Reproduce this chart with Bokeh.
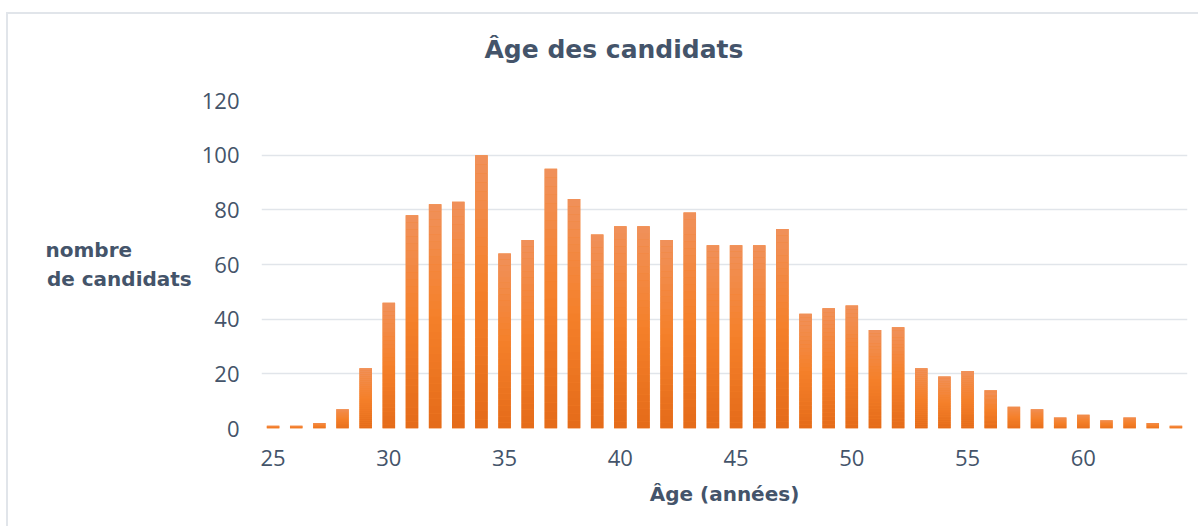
import numpy as np
from bokeh.plotting import figure
from bokeh.models import Range1d, FixedTicker, ColumnDataSource, Title
from bokeh.embed import file_html
from bokeh.resources import INLINE

# ---- data ----
ages = list(range(25, 65))
counts = [1, 1, 2, 7, 22, 46, 78, 82, 83, 100,
          64, 69, 95, 84, 71, 74, 74, 69, 79, 67,
          67, 67, 73, 42, 44, 45, 36, 37, 22, 19,
          21, 14, 8, 7, 4, 5, 3, 4, 2, 1]
x_ticks = [25, 30, 35, 40, 45, 50, 55, 60]
y_ticks = [0, 20, 40, 60, 80, 100, 120]
title_text = "Âge des candidats"
x_title = "Âge (années)"
NBSP = "\u00a0"
# first line padded with no-break spaces so both lines start at the same x
y_title = "nombre" + NBSP * 8 + "\u2009" + "\nde candidats"

TEXT = "#44546A"
GRID = "#E1E5EA"

p = figure(width=1192, height=514,
           x_range=Range1d(24.5, 64.5), y_range=Range1d(0, 120),
           output_backend="svg", toolbar_location=None,
           min_border_left=253, min_border_right=13,
           min_border_top=86, min_border_bottom=100)
p.styles = {"position": "relative", "top": "12px", "left": "6px",
            "border-top": "2px solid #E1E5EA", "border-left": "2px solid #E1E5EA"}
p.outline_line_color = None
p.background_fill_color = "white"
p.border_fill_color = "white"

# invisible spacer between the plot area and the title
p.add_layout(Title(text=" ", text_font_size="1px", standoff=34), "above")

# title
p.title.text = title_text
p.title.align = "left"
p.title.offset = 223
p.title.standoff = 0
p.title.text_font = "DejaVu Sans"
p.title.text_font_style = "bold"
p.title.text_font_size = "25px"
p.title.text_color = TEXT

# gradient bars: base + stacked slices derived from the data
BAR_W = 0.54
p.vbar(x=ages, top=counts, width=BAR_W, fill_color="#F5802A", line_color=None)

N = 30
frac = np.arange(N) / N
mid = (np.arange(N) + 0.5) / N
stops_t = [0.0, 0.5, 1.0]
stops = np.array([[0xE4, 0x6B, 0x19], [0xF5, 0x80, 0x2A], [0xF0, 0x91, 0x5B]], dtype=float)
cols = []
for t in mid:
    rgb = [np.interp(t, stops_t, stops[:, c]) for c in range(3)]
    cols.append("#%02X%02X%02X" % tuple(int(round(v)) for v in rgb))
cnt = np.array(counts, dtype=float)
src = ColumnDataSource(dict(
    x=np.repeat(ages, N),
    bottom=(cnt[:, None] * frac[None, :]).ravel(),
    top=(cnt[:, None] * (frac + 1.0 / N)[None, :]).ravel(),
    color=np.tile(cols, len(ages)),
))
p.vbar(x="x", bottom="bottom", top="top", width=BAR_W, fill_color="color",
       line_color=None, source=src)

# axes
for ax in (p.xaxis[0], p.yaxis[0]):
    ax.axis_line_color = None
    ax.major_tick_line_color = None
    ax.minor_tick_line_color = None
    ax.major_tick_out = 0
    ax.major_tick_in = 0
    ax.major_label_text_font = "Open Sans"
    ax.major_label_text_font_size = "22px"
    ax.major_label_text_color = TEXT
    ax.axis_label_text_font = "DejaVu Sans"
    ax.axis_label_text_font_style = "bold"
    ax.axis_label_text_font_size = "20px"
    ax.axis_label_text_color = TEXT
p.xaxis.ticker = FixedTicker(ticks=x_ticks)
p.yaxis.ticker = FixedTicker(ticks=y_ticks)
p.xaxis.major_label_standoff = 21
p.yaxis.major_label_standoff = 22

p.xaxis.axis_label = x_title
p.xaxis.axis_label_standoff = 13

p.yaxis.axis_label = y_title
p.yaxis.axis_label_orientation = "horizontal"
p.yaxis.axis_label_text_line_height = 1.2
p.yaxis.axis_label_standoff = 7

p.xgrid.visible = False
p.ygrid.grid_line_color = GRID
p.ygrid.grid_line_width = 1.5

open("out.html", "w").write(file_html(p, INLINE))
